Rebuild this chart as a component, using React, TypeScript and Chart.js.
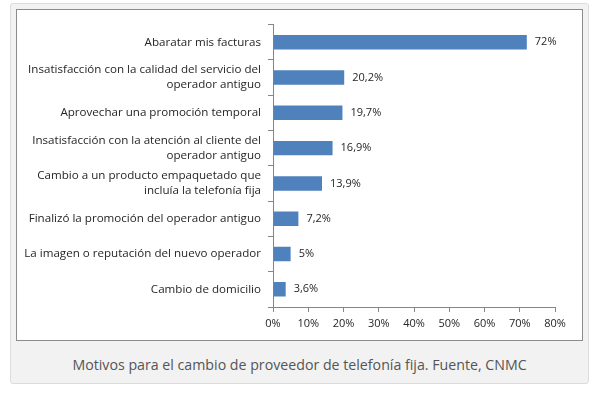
import React, { useEffect, useRef } from "react";
import { Chart, registerables } from "chart.js";

Chart.register(...registerables);

const categories: (string | string[])[] = [
  "Abaratar mis facturas",
  ["Insatisfacción con la calidad del servicio del", "operador antiguo"],
  "Aprovechar una promoción temporal",
  ["Insatisfacción con la atención al cliente del", "operador antiguo"],
  ["Cambio a un producto empaquetado que", "incluía la telefonía fija"],
  "Finalizó la promoción del operador antiguo",
  "La imagen o reputación del nuevo operador",
  "Cambio de domicilio",
];
const values: number[] = [72, 20.2, 19.7, 16.9, 13.9, 7.2, 5, 3.6];
const valueLabels: string[] = ["72%", "20,2%", "19,7%", "16,9%", "13,9%", "7,2%", "5%", "3,6%"];
const xTicks: number[] = [0, 10, 20, 30, 40, 50, 60, 70, 80];
const caption = "Motivos para el cambio de proveedor de telefonía fija. Fuente, CNMC";

const FONT = "'Open Sans', 'DejaVu Sans', sans-serif";
const TEXT = "#262626";
const AXIS = "#868686";

const labelPlugin = {
  id: "valueLabels",
  afterDatasetsDraw(chart: any) {
    const ctx = chart.ctx;
    const meta = chart.getDatasetMeta(0);
    ctx.save();
    ctx.font = `11px ${FONT}`;
    ctx.fillStyle = TEXT;
    ctx.textAlign = "left";
    ctx.textBaseline = "middle";
    meta.data.forEach((bar: any, i: number) => {
      ctx.fillText(valueLabels[i], bar.x + 8, bar.y);
    });
    ctx.restore();
  },
};

export default function App() {
  const ref = useRef<HTMLCanvasElement>(null);
  useEffect(() => {
    if (!ref.current) return;
    const chart = new Chart(ref.current, {
      type: "bar",
      data: {
        labels: categories,
        datasets: [
          {
            data: values,
            backgroundColor: "#4f81bd",
            borderWidth: 0,
            barPercentage: 0.41,
            categoryPercentage: 1,
          },
        ],
      },
      options: {
        indexAxis: "y",
        animation: false,
        responsive: false,
        maintainAspectRatio: false,
        layout: { padding: { left: 0, right: 27, top: 13, bottom: 0 } },
        plugins: {
          legend: { display: false },
          tooltip: { enabled: false },
        },
        scales: {
          x: {
            min: 0,
            max: 80,
            afterBuildTicks(scale: any) {
              scale.ticks = xTicks.map((v) => ({ value: v }));
            },
            afterFit(scale: any) {
              scale.height = 33;
            },
            ticks: {
              font: { family: FONT, size: 11 },
              color: TEXT,
              padding: 5,
              callback: (v: any) => `${v}%`,
            },
            grid: {
              display: true,
              drawOnChartArea: false,
              drawTicks: true,
              tickLength: 5,
              color: AXIS,
            },
            border: { display: true, color: AXIS },
          },
          y: {
            afterFit(scale: any) {
              scale.width = 256;
            },
            ticks: {
              font: { family: FONT, size: 11.6, lineHeight: 1.3 },
              color: TEXT,
              padding: 7,
            },
            grid: {
              display: true,
              offset: true,
              drawOnChartArea: false,
              drawTicks: true,
              tickLength: 5,
              color: AXIS,
            },
            border: { display: true, color: AXIS },
          },
        },
      },
      plugins: [labelPlugin],
    });
    return () => chart.destroy();
  }, []);

  return (
    <div
      style={{
        position: "absolute",
        left: 10,
        top: 3,
        width: 577,
        height: 379,
        background: "#f2f2f2",
        border: "1px solid #dcdcdc",
        borderRadius: 3,
      }}
    >
      <div
        style={{
          position: "absolute",
          left: 5,
          top: 5,
          width: 565,
          height: 330,
          background: "#fff",
          border: "1px solid #8c8c8c",
        }}
      >
        <canvas ref={ref} width={565} height={330} style={{ display: "block" }} />
      </div>
      <div
        style={{
          position: "absolute",
          left: 0,
          right: 0,
          top: 351,
          textAlign: "center",
          fontFamily: "'Open Sans', sans-serif",
          fontSize: 14.2,
          color: "#555",
          lineHeight: "20px",
        }}
      >
        {caption}
      </div>
    </div>
  );
}
